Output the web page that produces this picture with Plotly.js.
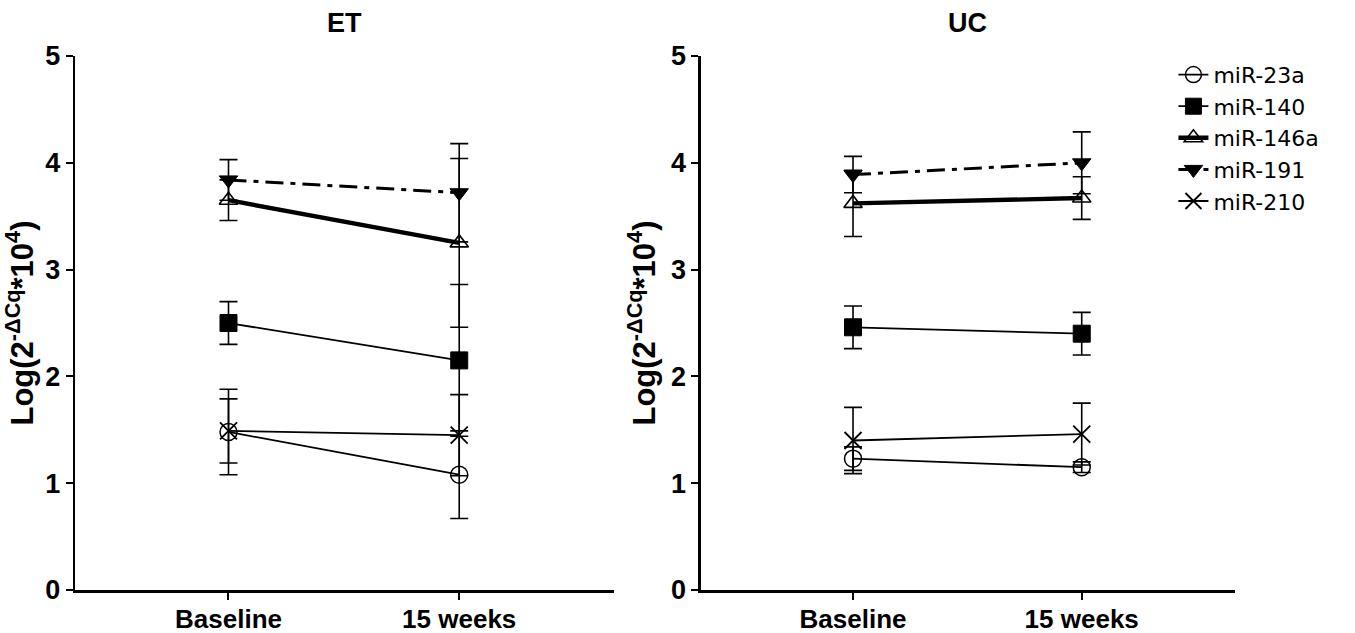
<!DOCTYPE html>
<html>
<head>
<meta charset="utf-8">
<script src="https://cdn.plot.ly/plotly-3.0.1.min.js"></script>
<style>
html,body{margin:0;padding:0;background:#fff;}
#chart{width:1355px;height:633px;}
</style>
</head>
<body>
<div id="chart"></div>
<script>
// ---- data ----
const categories = ["Baseline", "15 weeks"];
const seriesNames = ["miR-23a", "miR-140", "miR-146a", "miR-191", "miR-210"];
const panelTitles = ["ET", "UC"];

// ET panel means and errors
const et_mir23a = [1.48, 1.08];
const et_mir23a_err = [0.40, 0.41];
const et_mir140 = [2.50, 2.15];
const et_mir140_err = [0.20, 0.71];
const et_mir146a = [3.65, 3.25];
const et_mir146a_err = [0.19, 0.79];
const et_mir191 = [3.84, 3.72];
const et_mir191_err = [0.19, 0.46];
const et_mir210 = [1.49, 1.45];
const et_mir210_err = [0.30, 0.38];

// UC panel means and errors
const uc_mir23a = [1.23, 1.15];
const uc_mir23a_err = [0.11, 0.05];
const uc_mir140 = [2.46, 2.40];
const uc_mir140_err = [0.20, 0.20];
const uc_mir146a = [3.62, 3.67];
const uc_mir146a_err = [0.31, 0.20];
const uc_mir191 = [3.89, 4.00];
const uc_mir191_err = [0.17, 0.29];
const uc_mir210 = [1.40, 1.46];
const uc_mir210_err = [0.31, 0.29];

const yTickVals = [0, 1, 2, 3, 4, 5];
const yTitle = "<b>Log(2<sup>-ΔCq</sup>*10<sup>4</sup>)</b>";

// ---- styles ----
const styles = [
  {symbol: "circle-open", size: 17, mlw: 1.5, lw: 1.8, dash: "solid"},
  {symbol: "square", size: 17, mlw: 1, lw: 1.8, dash: "solid"},
  {symbol: "triangle-up-open", size: 16, mlw: 1.6, lw: 4.4, dash: "solid"},
  {symbol: "triangle-down", size: 16, mlw: 1, lw: 3, dash: "18px,7px,5px,7px"},
  {symbol: "x-thin-open", size: 17, mlw: 1.8, lw: 1.8, dash: "solid"}
];

const etData = [[et_mir23a, et_mir23a_err], [et_mir140, et_mir140_err], [et_mir146a, et_mir146a_err], [et_mir191, et_mir191_err], [et_mir210, et_mir210_err]];
const ucData = [[uc_mir23a, uc_mir23a_err], [uc_mir140, uc_mir140_err], [uc_mir146a, uc_mir146a_err], [uc_mir191, uc_mir191_err], [uc_mir210, uc_mir210_err]];

const traces = [];
function addPanel(data, xa, ya, showLeg) {
  data.forEach((d, i) => {
    const s = styles[i];
    traces.push({
      type: "scatter", mode: "lines+markers",
      x: categories, y: d[0], name: seriesNames[i],
      xaxis: xa, yaxis: ya, showlegend: showLeg, legendgroup: seriesNames[i],
      line: {color: "#000", width: s.lw, dash: s.dash},
      marker: {symbol: s.symbol, size: s.size, color: "#000", line: {color: "#000", width: s.mlw}},
      error_y: {type: "data", array: d[1], visible: true, color: "#000", thickness: 1.6, width: 9}
    });
  });
}
addPanel(etData, "x", "y", true);
addPanel(ucData, "x2", "y2", false);

const fontFam = "Liberation Sans, Arial, sans-serif";
function xAxis(domain, anchor) {
  return {
    domain: domain, anchor: anchor, type: "category", categoryorder: "array", categoryarray: categories,
    range: [-0.665, 1.67], showline: true, linecolor: "#000", linewidth: 2.5, mirror: false,
    ticks: "outside", ticklen: 7, tickwidth: 2, tickcolor: "#000", showgrid: false, zeroline: false,
    ticklabelstandoff: -3,
    tickfont: {family: fontFam, size: 26, color: "#000", weight: "bold"}, automargin: false, fixedrange: true
  };
}
function yAxis(anchor) {
  return {
    domain: [0.0679, 0.9115], anchor: anchor, range: [0, 5], tickvals: yTickVals,
    showline: true, linecolor: "#000", linewidth: 2.5, ticks: "outside", ticklen: 7, tickwidth: 2, tickcolor: "#000",
    showgrid: false, zeroline: false, automargin: false,
    tickfont: {family: fontFam, size: 27, color: "#000", weight: "bold"},
    title: {text: yTitle, font: {family: fontFam, size: 31, color: "#000"}, standoff: 6}
  };
}

const layout = {
  width: 1355, height: 633,
  margin: {l: 0, r: 0, t: 0, b: 0},
  paper_bgcolor: "#fff", plot_bgcolor: "#fff",
  font: {family: fontFam, color: "#000"},
  xaxis: xAxis([0.0554, 0.453], "y"),
  yaxis: yAxis("x"),
  xaxis2: xAxis([0.5173, 0.9114], "y2"),
  yaxis2: yAxis("x2"),
  showlegend: true,
  legend: {
    x: 0.866, y: 0.915, xanchor: "left", yanchor: "top",
    font: {family: "DejaVu Sans, sans-serif", size: 22, color: "#000"}, itemwidth: 30,
    tracegroupgap: 0, bgcolor: "rgba(0,0,0,0)"
  },
  annotations: panelTitles.map((t, i) => ({
    text: "<b>" + t + "</b>", xref: "paper", yref: "paper",
    x: i === 0 ? 0.2542 : 0.7143, y: 1 - 23 / 633, xanchor: "center", yanchor: "middle",
    showarrow: false, font: {family: fontFam, size: 27, color: "#000"}
  }))
};

Plotly.newPlot("chart", traces, layout, {displayModeBar: false, staticPlot: true});
</script>
</body>
</html>
